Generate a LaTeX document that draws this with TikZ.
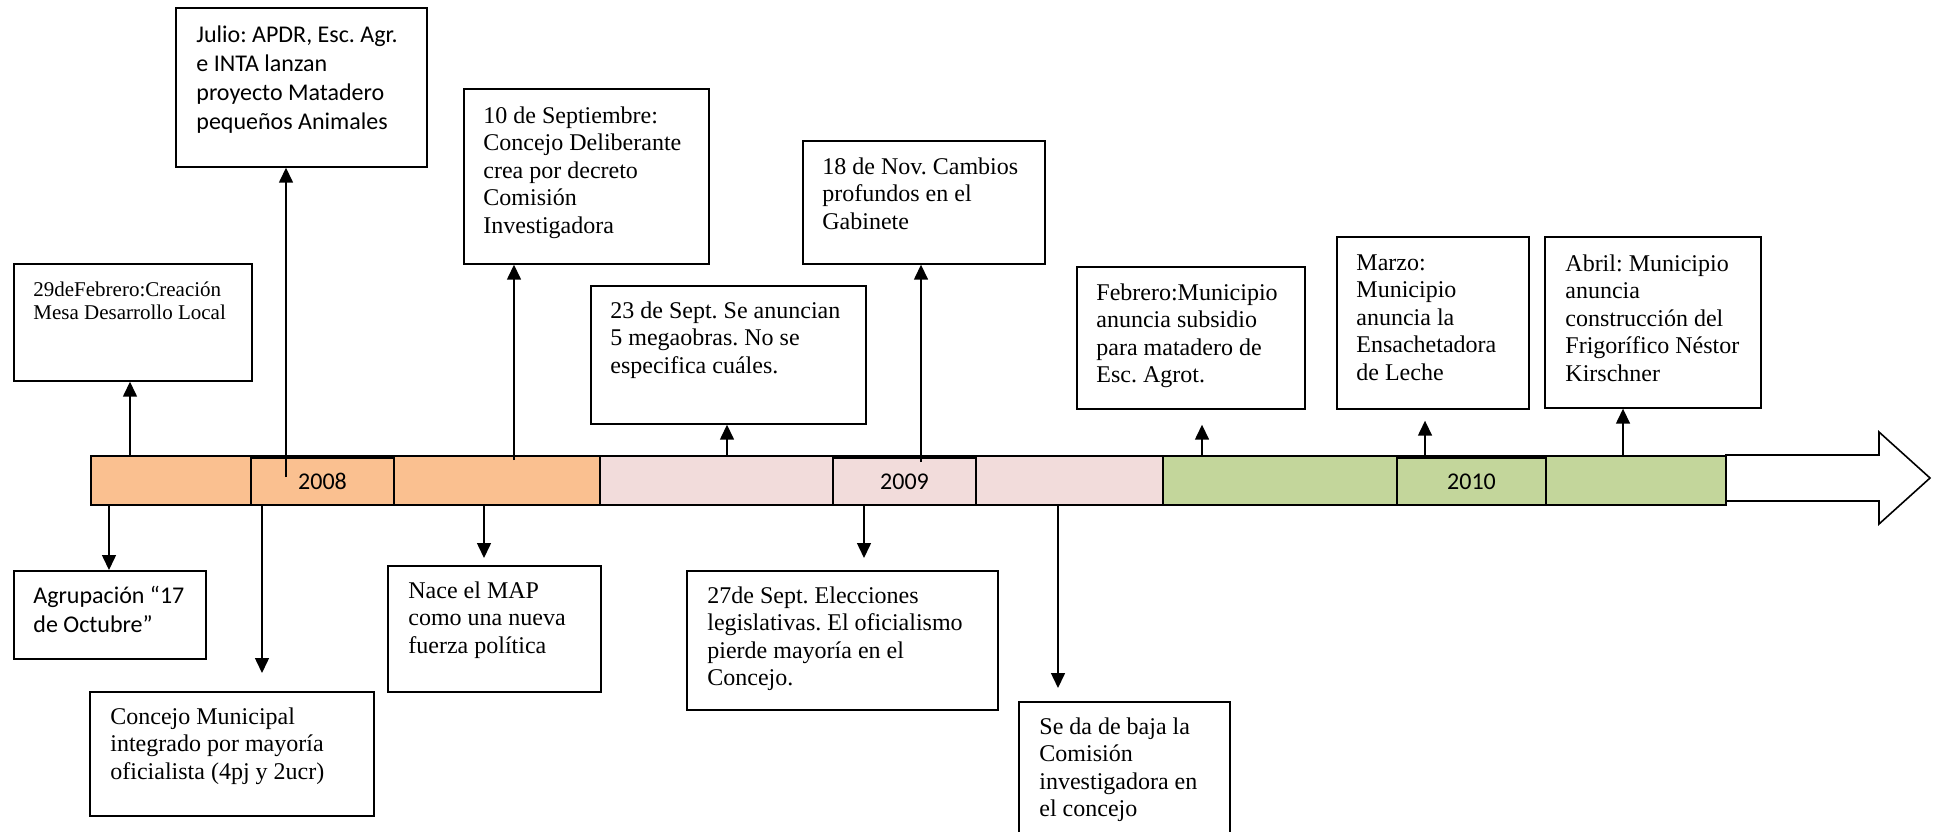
\documentclass[tikz,border=0pt]{standalone}
\usepackage{fontspec}
\setmainfont{Liberation Serif}
\newfontfamily\calibri{Carlito}
\usetikzlibrary{positioning,arrows.meta}
\definecolor{orange08}{HTML}{FAC090}
\definecolor{pink09}{HTML}{F2DCDB}
\definecolor{green10}{HTML}{C3D69B}
\frenchspacing

\begin{document}
\begin{tikzpicture}
  [x=0.5pt, y=-0.5pt,
   segment/.style={rectangle, draw=black, line width=0.8pt, anchor=north west, inner sep=0pt, minimum height=24.5pt},
   yearbox/.style={rectangle, draw=black, line width=1pt, anchor=north west, inner sep=0pt, minimum height=23.5pt, font=\calibri\fontsize{12}{14.5}\selectfont},
   eventbox/.style={rectangle, draw=black, line width=0.85pt, anchor=north west, inner sep=0pt},
   serifnote/.style={align=left, inner sep=0pt, font=\fontsize{12}{13.75}\selectfont},
   sansnote/.style={align=left, inner sep=0pt, font=\calibri\fontsize{12}{14.5}\selectfont},
   eventarrow/.style={-{Triangle[width=7pt,length=7.5pt]}, line width=0.75pt},
  ]
  \useasboundingbox (0,0) rectangle (1942,831);

  % timeline arrow and bar
  \draw[line width=0.8pt, fill=white] (1725,455) -- (1879,455) -- (1879,432) -- (1930,478) -- (1879,524) -- (1879,501) -- (1725,501);

  \node[segment, fill=orange08, minimum width=254.5pt] (seg08) at (90,455) {};
  \node[segment, fill=pink09, minimum width=281.5pt] (seg09) at (599,455) {};
  \node[segment, fill=green10, minimum width=281.5pt] (seg10) at (1162,455) {};

  \node[yearbox, fill=orange08, minimum width=71.5pt] (yr08) at (250,457) {2008};
  \node[yearbox, fill=pink09, minimum width=71.5pt] (yr09) at (832,457) {2009};
  \node[yearbox, fill=green10, minimum width=74.5pt] (yr10) at (1396,457) {2010};

  % events above the bar
  \node[eventbox, minimum width=119pt, minimum height=58.5pt] (feb08) at (13,263) {};
  \node[serifnote, font=\fontsize{10.5}{11.5}\selectfont, below right=9pt and 10pt of feb08.north west] (feb08txt) {29deFebrero:Creación\\Mesa Desarrollo Local};

  \node[eventbox, minimum width=125.5pt, minimum height=79.5pt] (jul08) at (175,7) {};
  \node[sansnote, below right=9pt and 10.5pt of jul08.north west] (jul08txt) {Julio: APDR, Esc. Agr.\\e INTA lanzan\\proyecto Matadero\\pequeños Animales};

  \node[eventbox, minimum width=122.5pt, minimum height=87.5pt] (sep08) at (463,88) {};
  \node[serifnote, below right=9pt and 10pt of sep08.north west] (sep08txt) {10 de Septiembre:\\Concejo Deliberante\\crea por decreto\\Comisión\\Investigadora};

  \node[eventbox, minimum width=137.5pt, minimum height=69pt] (sep09a) at (590,285) {};
  \node[serifnote, below right=8pt and 10pt of sep09a.north west] (sep09atxt) {23 de Sept. Se anuncian\\5 megaobras. No se\\especifica cuáles.};

  \node[eventbox, minimum width=121pt, minimum height=61.5pt] (nov09) at (802,140) {};
  \node[serifnote, below right=8.5pt and 10pt of nov09.north west] (nov09txt) {18 de Nov. Cambios\\profundos en el\\Gabinete};

  \node[eventbox, minimum width=114pt, minimum height=71pt] (feb10) at (1076,266) {};
  \node[serifnote, below right=8.5pt and 10pt of feb10.north west] (feb10txt) {Febrero:Municipio\\anuncia subsidio\\para matadero de\\Esc. Agrot.};

  \node[eventbox, minimum width=96pt, minimum height=86pt] (mar10) at (1336,236) {};
  \node[serifnote, below right=9pt and 10pt of mar10.north west] (mar10txt) {Marzo:\\Municipio\\anuncia la\\Ensachetadora\\de Leche};

  \node[eventbox, minimum width=108pt, minimum height=85.5pt] (abr10) at (1544,236) {};
  \node[serifnote, below right=9pt and 10.5pt of abr10.north west] (abr10txt) {Abril: Municipio\\anuncia\\construcción del\\Frigorífico Néstor\\Kirschner};

  % events below the bar
  \node[eventbox, minimum width=96pt, minimum height=44pt] (agr08) at (13,570) {};
  \node[sansnote, below right=8pt and 10pt of agr08.north west] (agr08txt) {Agrupación “17\\de Octubre”};

  \node[eventbox, minimum width=142pt, minimum height=62pt] (con08) at (89,691) {};
  \node[serifnote, below right=8pt and 10.5pt of con08.north west] (con08txt) {Concejo Municipal\\integrado por mayoría\\oficialista (4pj y 2ucr)};

  \node[eventbox, minimum width=106.5pt, minimum height=63pt] (map08) at (387,565) {};
  \node[serifnote, below right=8pt and 10.5pt of map08.north west] (map08txt) {Nace el MAP\\como una nueva\\fuerza política};

  \node[eventbox, minimum width=155.5pt, minimum height=69.5pt] (sep09b) at (686,570) {};
  \node[serifnote, below right=8pt and 10.5pt of sep09b.north west] (sep09btxt) {27de Sept. Elecciones\\legislativas. El oficialismo\\pierde mayoría en el\\Concejo.};

  \node[eventbox, minimum width=105.5pt, minimum height=74.5pt] (baj09) at (1018,701) {};
  \node[serifnote, below right=8pt and 10.5pt of baj09.north west] (baj09txt) {Se da de baja la\\Comisión\\investigadora en\\el concejo};

  % arrows
  \coordinate (u1) at (130,455);
  \coordinate (u2) at (286,477);
  \coordinate (u3) at (514,460);
  \coordinate (u4) at (727,455);
  \coordinate (u5) at (921,462);
  \coordinate (u6) at (1202,455);
  \coordinate (u7) at (1425,455);
  \coordinate (u8) at (1623,455);
  \coordinate (d1) at (109,504);
  \coordinate (d2) at (262,504);
  \coordinate (d3) at (484,504);
  \coordinate (d4) at (864,504);
  \coordinate (d5) at (1058,504);

  \foreach \from/\to/\gap in {u1/feb08/0, u2/jul08/0, u3/sep08/0, u4/sep09a/0, u5/nov09/0, u6/feb10/7.5, u7/mar10/5.5, u8/abr10/0}
    \draw[eventarrow, shorten >=\gap pt] (\from) -- (\from |- \to.south);
  \foreach \from/\to/\gap in {d1/agr08/0, d2/con08/9, d3/map08/3.5, d4/sep09b/6, d5/baj09/6.5}
    \draw[eventarrow, shorten >=\gap pt] (\from) -- (\from |- \to.north);
\end{tikzpicture}
\end{document}
